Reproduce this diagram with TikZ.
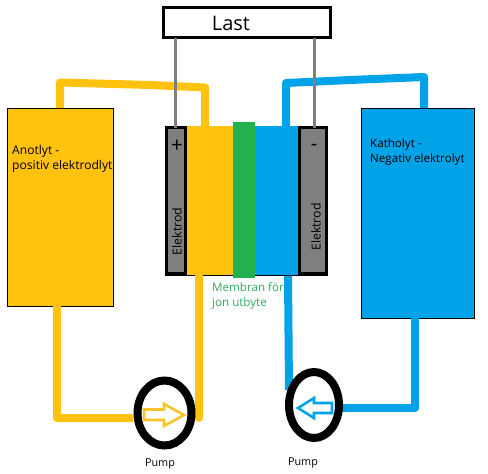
\documentclass[tikz,border=0pt]{standalone}
\usepackage{fontspec}
\setmainfont{Open Sans}
\usetikzlibrary{shapes.geometric}
\definecolor{yel}{HTML}{FFC20E}
\definecolor{blu}{HTML}{00A2E8}
\definecolor{grn}{HTML}{22B14C}
\definecolor{gry}{HTML}{7F7F7F}
\tikzset{
  box/.style={draw=black,inner sep=0pt,outer sep=0pt,anchor=north west},
  pipe/.style={line width=8pt,line join=round,line cap=round},
  wire/.style={draw=gry,line width=3pt},
  pump/.style={draw=black,ellipse,line width=8pt,inner sep=0pt,outer sep=0pt},
  flow/.style={line width=2.6pt,line join=miter},
  lab/.style={inner sep=0pt,font=\fontsize{11.6}{15}\selectfont,align=left,anchor=west},
  pumplab/.style={inner sep=0pt,font=\fontsize{10.8}{12}\selectfont},
  eltxt/.style={inner sep=0pt,font=\fontsize{12.4}{14}\selectfont,rotate=90}
}
\begin{document}
\begin{tikzpicture}[x=1pt,y=-1pt]
\useasboundingbox (0,0) rectangle (488,474);
\fill[white] (0,0) rectangle (488,474);
% tanks
\node[box,fill=yel,line width=1pt,minimum width=106pt,minimum height=198pt] (anotank) at (7,108) {};
\node[box,fill=blu,line width=1pt,minimum width=113pt,minimum height=210pt] (katank) at (361,108) {};
% cell body
\node[box,fill=black,draw=none,minimum width=163pt,minimum height=150pt] (cell) at (165,126) {};
\node[box,fill=yel,draw=none,minimum width=46pt,minimum height=149pt] (anoside) at (187,126) {};
\node[box,fill=blu,draw=none,minimum width=43pt,minimum height=149pt] (kaside) at (255,126) {};
\node[box,fill=gry,draw=none,minimum width=16pt,minimum height=143pt] (elA) at (168,129) {};
\node[box,fill=gry,draw=none,minimum width=24pt,minimum height=143pt] (elB) at (301,129) {};
\node[box,fill=grn,draw=none,minimum width=22pt,minimum height=156pt] (membran) at (233,122) {};
% load
\node[box,fill=white,line width=3pt,minimum width=167pt,minimum height=30pt] (load) at (163.5,7.5) {};
\node[inner sep=0pt,font=\fontsize{20}{22}\selectfont] (loadtxt) at (231,23) {Last};
% named pipe ends
\coordinate (a1) at (60,108);
\coordinate (a2) at (205,126);
\coordinate (k1) at (286,126);
\coordinate (k2) at (424,108);
\coordinate (a3) at (57,306);
\coordinate (a4) at (133,418);
\coordinate (a5) at (199,275);
\coordinate (a6) at (199,418);
\coordinate (k3) at (288,276);
\coordinate (k4) at (289,390);
\coordinate (k5) at (415,318);
\coordinate (k6) at (338,408);
% pipes
\draw[yel,pipe,line cap=butt] (a1) -- (60,82.5) -- (150,85) -- (205,87.5) -- (a2);
\draw[blu,pipe,line cap=butt] (k1) -- (286,83) -- (350,80) -- (424,77) -- (k2);
\draw[yel,pipe,line cap=butt] (a3) -- (57,418) -- (a4);
\draw[yel,pipe] (a5) -- (a6);
\draw[blu,pipe,line cap=butt] (k3) -- (k4);
\draw[blu,pipe,line cap=butt] (k5) -- (415,408) -- (k6);
% wires
\draw[wire] (load.south -| 175,0) -- (175,128);
\draw[wire] (load.south -| 314,0) -- (314,128);
% pumps
\node[pump,minimum width=54pt,minimum height=65pt] (pumpA) at (164.5,413) {};
\node[pump,minimum width=50pt,minimum height=66pt] (pumpB) at (314,405) {};
\draw[flow,draw={rgb,255:red,250;green,195;blue,40}] (144,409.5) -- (164,409.5) -- (164,404) -- (184,415) -- (164,426) -- (164,420) -- (144,420) -- cycle;
\draw[flow,draw=blu] (332,403) -- (314,403) -- (314,398) -- (298,408) -- (314,418) -- (314,413) -- (332,413) -- cycle;
% labels
\node[inner sep=0pt,font=\fontsize{21}{22}\selectfont] (plus) at (177,146) {+};
\node[inner sep=0pt,font=\fontsize{20}{22}\selectfont] (minus) at (314,147) {-};
\node[eltxt] (elAtxt) at (177,231.5) {Elektrod};
\node[eltxt] (elBtxt) at (316,227) {Elektrod};
\node[lab,font=\fontsize{12.1}{15}\selectfont] (anotxt) at (12,158.5) {Anotlyt -\\positiv elektrodlyt};
\node[lab] (katxt) at (370,151.5) {Katholyt -\\Negativ elektrolyt};
\node[lab,text={rgb,255:red,50;green,170;blue,100}] (memtxt) at (212,295.5) {Membran för\\jon utbyte};
\node[pumplab] (pumpAtxt) at (160,464) {Pump};
\node[pumplab] (pumpBtxt) at (303,463) {Pump};
\end{tikzpicture}
\end{document}
